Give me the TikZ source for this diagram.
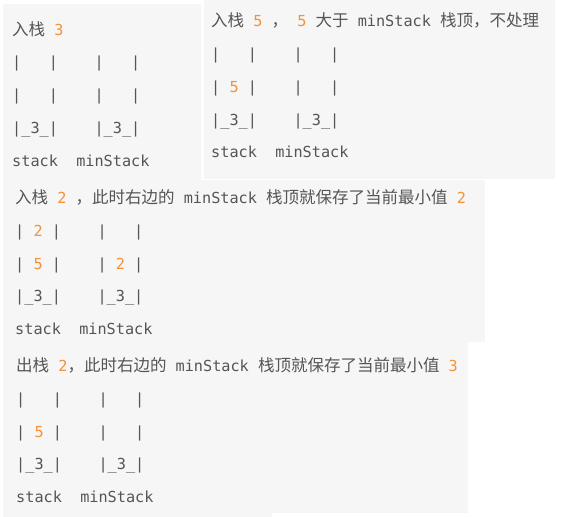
\documentclass[tikz,border=0pt]{standalone}
\usepackage{fontspec}
\setmainfont{DejaVu Sans Mono}
\newfontfamily\cjkfont{Noto Sans CJK SC}
\definecolor{txt}{RGB}{85,85,85}
\definecolor{num}{RGB}{243,146,57}
\definecolor{panel}{RGB}{246,246,246}
\newcommand\zh[1]{{\cjkfont\fontsize{16.5pt}{17pt}\selectfont #1}}
\newcommand\nm[1]{\textcolor{num}{#1}}
\begin{document}
\begin{tikzpicture}[x=1pt,y=-1pt,
  codeline/.style={anchor=base west, inner sep=0pt, text=txt, font=\fontsize{15.2pt}{16pt}\selectfont}]
\useasboundingbox (0,0) rectangle (563,517);
\fill[white] (0,0) rectangle (563,517);
\fill[panel] (3,4) rectangle (201,180);
\fill[panel] (204,0) rectangle (555,179);
\fill[panel] (3,180) rectangle (485,342);
\fill[panel] (3,342) rectangle (468,513);
\fill[panel] (3,513) rectangle (272,517);
% panel 1
\node[codeline] (a1) at (12,35) {\zh{入栈}~\nm{3}};
\node[codeline] (a2) at (12,67) {|~~~|~~~~|~~~|};
\node[codeline] (a3) at (12,100) {|~~~|~~~~|~~~|};
\node[codeline] (a4) at (12,133) {|\_3\_|~~~~|\_3\_|};
\node[codeline] (a5) at (12,166) {stack~~minStack};
% panel 2
\node[codeline] (b1) at (211,26) {\zh{入栈}~\nm{5}~\zh{，}~\nm{5}~\zh{大于}~minStack~\zh{栈顶，不处理}};
\node[codeline] (b2) at (211,59) {|~~~|~~~~|~~~|};
\node[codeline] (b3) at (211,92) {|~\nm{5}~|~~~~|~~~|};
\node[codeline] (b4) at (211,125) {|\_3\_|~~~~|\_3\_|};
\node[codeline] (b5) at (211,157) {stack~~minStack};
% panel 3
\node[codeline] (c1) at (15,203) {\zh{入栈}~\nm{2}~\zh{，此时右边的}~minStack~\zh{栈顶就保存了当前最小值}~\nm{2}};
\node[codeline] (c2) at (15,236) {|~\nm{2}~|~~~~|~~~|};
\node[codeline] (c3) at (15,269) {|~\nm{5}~|~~~~|~\nm{2}~|};
\node[codeline] (c4) at (15,301) {|\_3\_|~~~~|\_3\_|};
\node[codeline] (c5) at (15,334) {stack~~minStack};
% panel 4
\node[codeline] (d1) at (16,371) {\zh{出栈}~\nm{2}\zh{，此时右边的}~minStack~\zh{栈顶就保存了当前最小值}~\nm{3}};
\node[codeline] (d2) at (16,404) {|~~~|~~~~|~~~|};
\node[codeline] (d3) at (16,437) {|~\nm{5}~|~~~~|~~~|};
\node[codeline] (d4) at (16,469) {|\_3\_|~~~~|\_3\_|};
\node[codeline] (d5) at (16,502) {stack~~minStack};
\end{tikzpicture}
\end{document}
